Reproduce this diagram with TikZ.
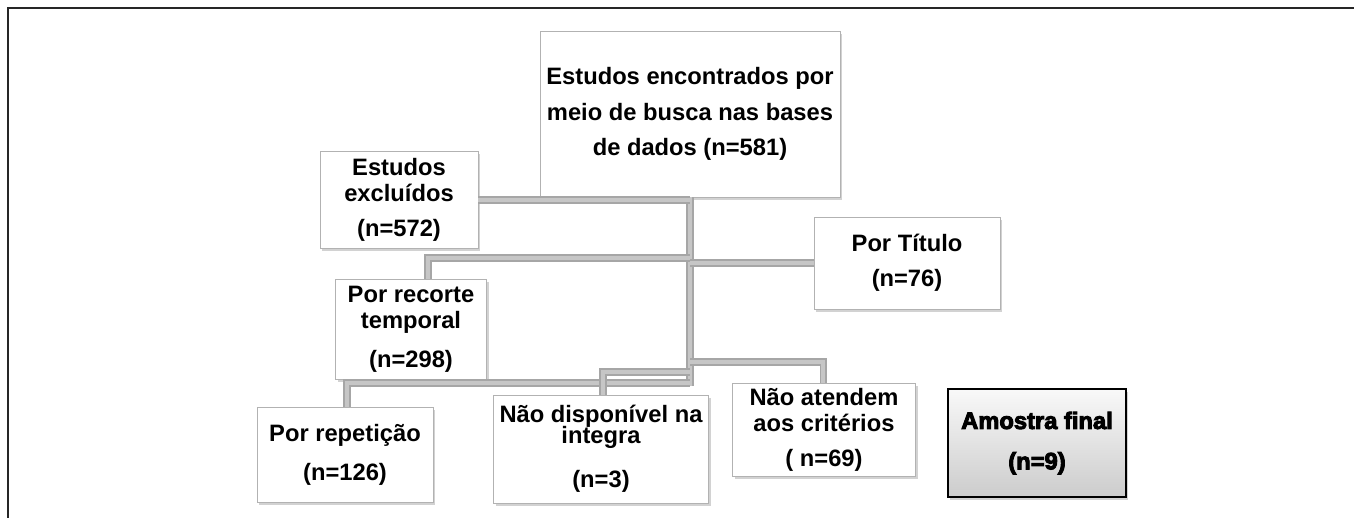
\documentclass[tikz,border=0pt]{standalone}
\usepackage{fontspec}
\setmainfont{Liberation Sans}
\newfontfamily\heavyfont{Liberation Sans}[FakeBold=4]
\usepackage{tikz}
\usetikzlibrary{shadows}
\newcommand{\flowbox}[6]{
	\node [#1, minimum width=#4*0.02cm, minimum height=#5*0.02cm] (#2) at (#3) {#6};}

\begin{document}
\begin{tikzpicture}[x=0.02cm,y=-0.02cm,
	box/.style={draw=gray!60, fill=white, align=center, inner sep=0pt,
		font=\fontsize{13.5}{15}\selectfont\bfseries,
		drop shadow={shadow xshift=1.2pt,shadow yshift=-1.5pt,fill=gray!70,opacity=0.5}},
	finalbox/.style={box, draw=black, line width=1.2pt, top color=gray!5, bottom color=gray!40,
		font=\fontsize{13.5}{15}\selectfont\heavyfont\bfseries},
	link/.style={draw=gray!70, double=gray!45, line width=0.9pt, double distance=2.2pt}]
	\useasboundingbox (0,0) rectangle (1354,518);
	\draw [gray!30!black, line width=0.6pt] (1354,8) -- (8,8) -- (8,518);

	% ligacoes
	\coordinate (trunkend) at (690,386);
	\coordinate (ra) at (428,258);
	\coordinate (rb) at (347,383);
	\coordinate (rc) at (603,372);
	\coordinate (rd) at (823,362);

	\flowbox{box}{main}{690,114}{300}{166}{Estudos encontrados por\\[5pt] meio de busca nas bases\\[5pt] de dados (n=581)}
	\flowbox{box}{excl}{399,200}{158}{97}{Estudos\\ excluídos\\[5pt] (n=572)}
	\flowbox{box}{titulo}{907,263}{186}{92}{Por Título\\[5pt] (n=76)}
	\flowbox{box}{recorte}{411,329}{151}{100}{Por recorte\\ temporal\\[7pt] (n=298)}
	\flowbox{box}{repet}{345,455}{176}{95}{Por repetição\\[7pt] (n=126)}
	\flowbox{box}{naodisp}{601,449}{215}{108}{Não disponível na\\[-3pt] integra\\[10pt] (n=3)}
	\flowbox{box}{naoatend}{824,430}{183}{93}{Não atendem\\ aos critérios\\[5pt] ( n=69)}
	\flowbox{finalbox}{amostra}{1037,443}{178}{108}{Amostra final\\[8pt] (n=9)}

	\draw [link] (main.south) -- (trunkend);
	\draw [link] (excl.east) -- (excl.east -| main.south);
	\draw [link] (ra -| main.south) -- (ra) -- (ra |- recorte.north);
	\draw [link] (titulo.west) -- (titulo.west -| main.south);
	\draw [link] (rb -| main.south) -- (rb) -- (rb |- repet.north);
	\draw [link] (rc -| main.south) -- (rc) -- (rc |- naodisp.north);
	\draw [link] (rd -| main.south) -- (rd) -- (rd |- naoatend.north);
\end{tikzpicture}
\end{document}
